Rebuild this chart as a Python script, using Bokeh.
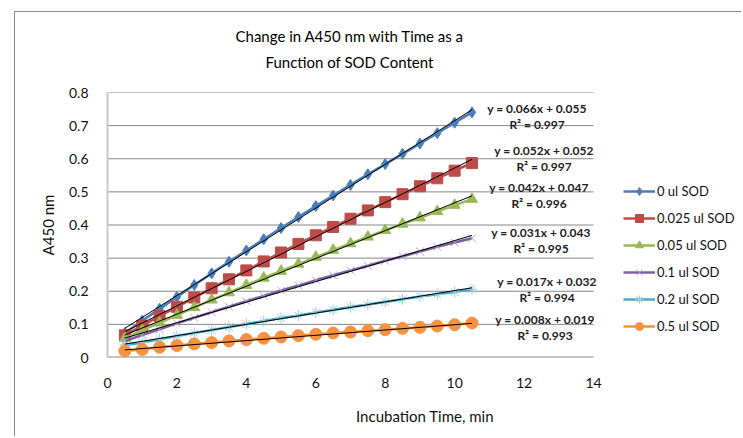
from bokeh.plotting import figure
from bokeh.models import (Legend, LegendItem, Title, Range1d, FixedTicker, ColumnDataSource,
                          LinearAxis)
from bokeh.embed import file_html
from bokeh.resources import INLINE
from bokeh.core.properties import value

# ---------------- data ----------------
time_min = [0.5, 1.0, 1.5, 2.0, 2.5, 3.0, 3.5, 4.0, 4.5, 5.0, 5.5,
            6.0, 6.5, 7.0, 7.5, 8.0, 8.5, 9.0, 9.5, 10.0, 10.5]

series_labels = ["0 ul SOD", "0.025 ul SOD", "0.05 ul SOD",
                 "0.1 ul SOD", "0.2 ul SOD", "0.5 ul SOD"]

a450_sod_0 = [0.074, 0.111, 0.147, 0.183, 0.219, 0.254, 0.289, 0.323, 0.357, 0.391, 0.424,
              0.457, 0.489, 0.521, 0.553, 0.584, 0.615, 0.646, 0.677, 0.709, 0.740]
a450_sod_0025 = [0.067, 0.096, 0.125, 0.153, 0.181, 0.209, 0.236, 0.263, 0.290, 0.317, 0.343,
                 0.369, 0.394, 0.419, 0.444, 0.469, 0.493, 0.517, 0.541, 0.564, 0.587]
a450_sod_005 = [0.058, 0.082, 0.105, 0.128, 0.151, 0.174, 0.196, 0.218, 0.240, 0.261, 0.282,
                0.303, 0.324, 0.344, 0.364, 0.384, 0.403, 0.422, 0.441, 0.460, 0.478]
a450_sod_01 = [0.050, 0.068, 0.085, 0.103, 0.120, 0.137, 0.153, 0.170, 0.186, 0.202, 0.217,
               0.233, 0.248, 0.263, 0.277, 0.292, 0.306, 0.320, 0.334, 0.347, 0.360]
a450_sod_02 = [0.038, 0.045, 0.055, 0.065, 0.074, 0.083, 0.092, 0.101, 0.110, 0.119, 0.127,
               0.136, 0.144, 0.152, 0.160, 0.168, 0.176, 0.184, 0.191, 0.198, 0.206]
a450_sod_05 = [0.020, 0.024, 0.031, 0.036, 0.041, 0.045, 0.050, 0.054, 0.058, 0.062, 0.066,
               0.070, 0.074, 0.077, 0.081, 0.084, 0.088, 0.091, 0.095, 0.099, 0.104]

trend_slopes = [0.066, 0.052, 0.042, 0.031, 0.017, 0.008]
trend_intercepts = [0.055, 0.052, 0.047, 0.043, 0.032, 0.019]
trend_r2 = [0.997, 0.997, 0.996, 0.995, 0.994, 0.993]

x_ticks = [0, 2, 4, 6, 8, 10, 12, 14]
y_ticks = [0, 0.1, 0.2, 0.3, 0.4, 0.5, 0.6, 0.7, 0.8]

all_series = [a450_sod_0, a450_sod_0025, a450_sod_005, a450_sod_01, a450_sod_02, a450_sod_05]

# ---------------- styles ----------------
line_colors = ["#4A7EBB", "#BE4B48", "#98B954", "#7D60A0", "#46AAC5", "#F69240"]
marker_types = ["diamond", "square", "triangle", "x", "asterisk", "circle"]
marker_fill = ["#4A7EBB", "#BE4B48", "#98B954", "#B3A2C7", "#93CDDD", "#F69240"]
marker_sizes = [11, 11, 11, 11, 11, 12]
eq_dx = [65, 72, 67, 69, 75, 73]
eq_dy = [-4, -13, -12, -6, -8, -4]

FONT = "Lato"
W, H = 727, 425
BORDER_L, BORDER_T = 92, 80
AXIS_PX = 486            # pixel length of the 0..14 x axis
frame_px = W - BORDER_L  # frame runs to the right edge so the legend is not clipped
x_end = x_ticks[-1] * frame_px / AXIS_PX

p = figure(width=W, height=H, output_backend="svg", toolbar_location=None,
           x_range=Range1d(0, x_end), y_range=Range1d(y_ticks[0], y_ticks[-1]),
           min_border_left=BORDER_L, min_border_right=0, min_border_top=BORDER_T,
           min_border_bottom=80)
p.margin = (11, 0, 0, 14)
p.styles = {"border-left": "1px solid #8a8a8a", "border-top": "1px solid #8a8a8a"}
p.outline_line_color = None
p.background_fill_color = "white"
p.border_fill_color = "white"

# bottom axis styling
xax = p.below[0]
xax.ticker = FixedTicker(ticks=x_ticks)
p.yaxis.ticker = FixedTicker(ticks=y_ticks)
p.yaxis.major_label_overrides = {0: "0"}
for ax in (xax, p.yaxis[0]):
    ax.major_tick_line_color = None
    ax.minor_tick_line_color = None
    ax.major_label_text_font = FONT
    ax.major_label_text_font_size = "14px"
    ax.major_label_text_color = "#111111"
    ax.axis_label_text_font = FONT
    ax.axis_label_text_font_size = "15px"
    ax.axis_label_text_font_style = "normal"
    ax.axis_label_text_color = "#111111"
xax.axis_label = "Incubation Time, min"
xax.axis_line_color = None
xax.major_label_standoff = 14
xax.axis_label_standoff = 16
p.yaxis.axis_label = "A450 nm"
p.yaxis.axis_line_color = "#c8c8c8"
p.yaxis.axis_line_width = 2
p.yaxis.major_label_standoff = 13
p.yaxis.axis_label_standoff = 9

# invisible spacer axis above the frame (hidden tick, blank label) to lift the title block
spacer = LinearAxis(ticker=FixedTicker(ticks=[x_ticks[0]]), axis_line_color=None,
                    major_tick_line_color=None, minor_tick_line_color=None,
                    major_tick_out=22, major_tick_in=0, minor_tick_out=0, minor_tick_in=0,
                    major_label_standoff=0, major_label_overrides={x_ticks[0]: ""},
                    major_label_text_font_size="1px")
p.add_layout(spacer, "above")
p.add_layout(Title(text="Function of SOD Content", align="left", offset=158, text_font=FONT,
                   text_font_size="15px", text_font_style="normal", text_color="#000000",
                   standoff=0), "above")
p.add_layout(Title(text="Change in A450 nm with Time as a", align="left", offset=128,
                   text_font=FONT, text_font_size="15px", text_font_style="normal",
                   text_color="#000000", standoff=12), "above")

p.xgrid.grid_line_color = None
p.ygrid.grid_line_color = None
# gridlines and x axis line limited to the 0..14 span
p.segment(x0=[x_ticks[0]] * (len(y_ticks) - 1), x1=[x_ticks[-1]] * (len(y_ticks) - 1),
          y0=y_ticks[1:], y1=y_ticks[1:], line_color="#868686", line_width=1)
p.segment(x0=[x_ticks[0]], x1=[x_ticks[-1]], y0=[y_ticks[0]], y1=[y_ticks[0]],
          line_color="#868686", line_width=2)

items = []
for i, ys in enumerate(all_series):
    src = ColumnDataSource(dict(x=time_min, y=ys))
    lr = p.line("x", "y", source=src, line_color=line_colors[i], line_width=2.6)
    if marker_types[i] in ("x", "asterisk"):
        sr = p.scatter("x", "y", source=src, marker=marker_types[i], size=marker_sizes[i],
                       line_color=marker_fill[i], line_width=1)
    else:
        sr = p.scatter("x", "y", source=src, marker=marker_types[i], size=marker_sizes[i],
                       fill_color=marker_fill[i], line_color=marker_fill[i])
    items.append(LegendItem(label=series_labels[i], renderers=[lr, sr]))

# trendlines and equations
for i, ys in enumerate(all_series):
    x0, x1 = time_min[0], time_min[-1]
    p.line([x0, x1], [trend_slopes[i] * x0 + trend_intercepts[i],
                      trend_slopes[i] * x1 + trend_intercepts[i]],
           line_color="black", line_width=1)
    eq = "y = %.3fx + %.3f" % (trend_slopes[i], trend_intercepts[i])
    r2 = "R\u00b2 = %.3f" % trend_r2[i]
    p.text(x=[time_min[-1]], y=[ys[-1]], text=[eq], x_offset=eq_dx[i], y_offset=eq_dy[i],
           text_align="center", text_baseline="middle", text_font=value(FONT),
           text_font_size="12px", text_font_style="bold", text_color="#222222")
    p.text(x=[time_min[-1]], y=[ys[-1]], text=[r2], x_offset=eq_dx[i], y_offset=eq_dy[i] + 16,
           text_align="center", text_baseline="middle", text_font=value(FONT),
           text_font_size="12px", text_font_style="bold", text_color="#222222")

legend = Legend(items=items, location=(516, 21), orientation="vertical",
                border_line_color=None, background_fill_alpha=0,
                label_text_font=FONT, label_text_font_size="13px", label_text_color="#111111",
                glyph_width=32, glyph_height=20, label_height=20, spacing=7,
                label_standoff=2, padding=0, margin=0)
p.add_layout(legend, "center")

open("out.html", "w").write(file_html(p, INLINE))
